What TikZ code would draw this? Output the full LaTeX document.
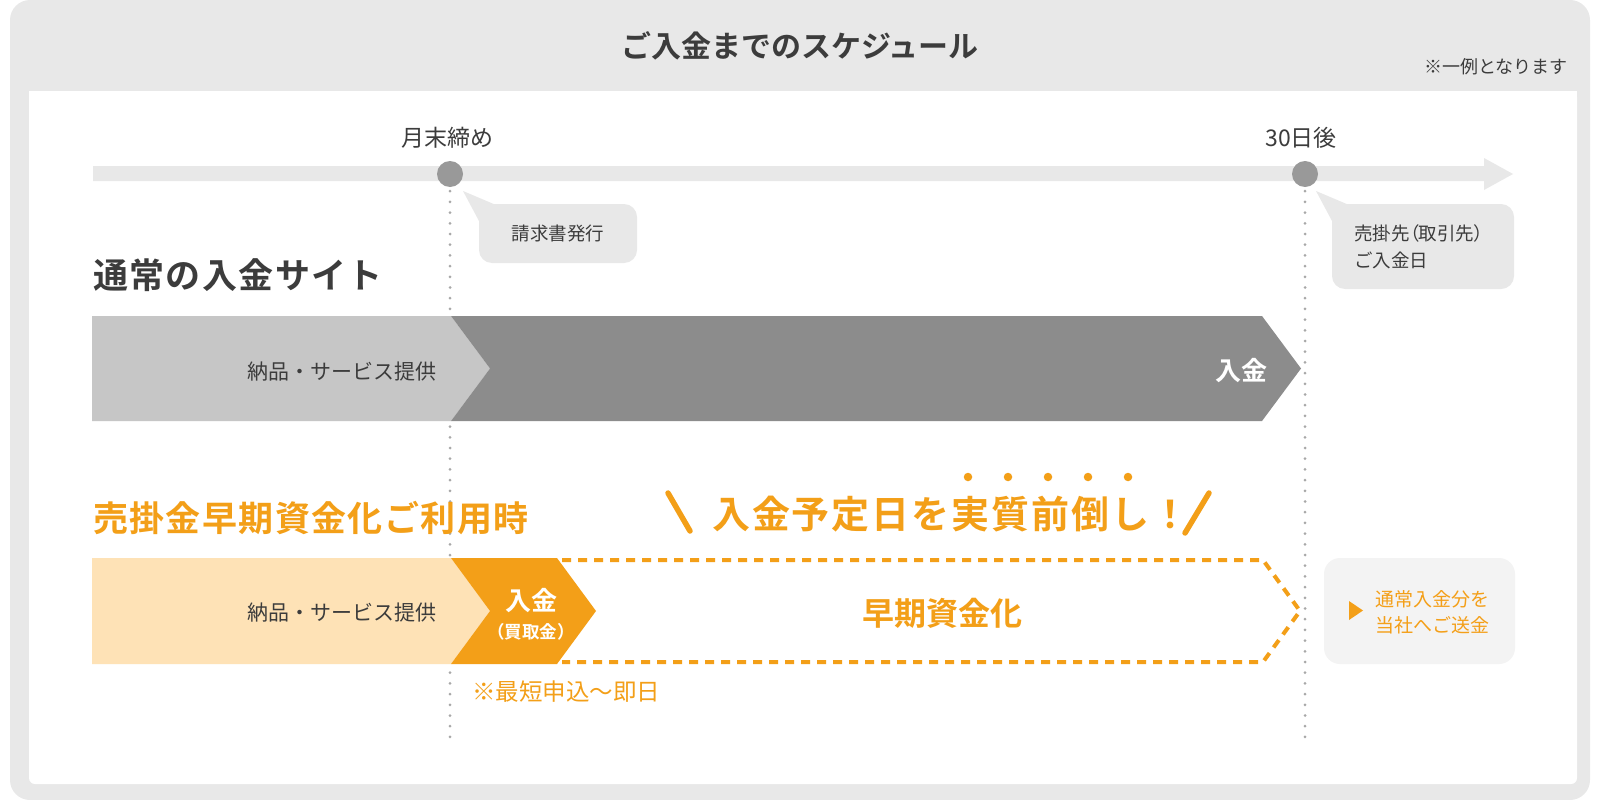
\documentclass[tikz,border=0pt]{standalone}
\usepackage{fontspec}
\setmainfont{Noto Sans CJK JP}[BoldFont={Noto Sans CJK JP Bold}]
\definecolor{frame}{HTML}{E8E8E8}
\definecolor{dark}{HTML}{3C3C3C}
\definecolor{dotgray}{HTML}{A8A8A8}
\definecolor{circ}{HTML}{999999}
\definecolor{rowlight}{HTML}{C6C6C6}
\definecolor{rowdark}{HTML}{8C8C8C}
\definecolor{orng}{HTML}{F39F18}
\definecolor{orlight}{HTML}{FEE2B6}
\definecolor{boxgray}{HTML}{F3F3F3}
\tikzset{
  txt/.style={inner sep=0pt, text=dark},
  titletxt/.style={txt, font=\fontsize{30pt}{36pt}\selectfont\bfseries},
  notetxt/.style={txt, font=\fontsize{18pt}{22pt}\selectfont},
  ticktxt/.style={txt, font=\fontsize{23pt}{28pt}\selectfont},
  calltxt/.style={txt, font=\fontsize{18.5pt}{27pt}\selectfont, align=left},
  headtxt/.style={txt, font=\fontsize{35pt}{40pt}\selectfont\bfseries\addfontfeatures{LetterSpace=4}},
  rowtxt/.style={txt, font=\fontsize{21pt}{25pt}\selectfont},
  paytxt/.style={inner sep=0pt, text=white, font=\fontsize{26pt}{30pt}\selectfont\bfseries},
  paysmall/.style={inner sep=0pt, text=white, font=\fontsize{17.5pt}{21pt}\selectfont\bfseries},
  orbig/.style={inner sep=0pt, text=orng, font=\fontsize{38pt}{44pt}\selectfont\bfseries\addfontfeatures{LetterSpace=5}},
  ormid/.style={inner sep=0pt, text=orng, font=\fontsize{32pt}{38pt}\selectfont\bfseries},
  ornote/.style={inner sep=0pt, text=orng, font=\fontsize{23.5pt}{28pt}\selectfont},
  orbox/.style={inner sep=0pt, text=orng, font=\fontsize{19pt}{26pt}\selectfont, align=left},
  tdot/.style={circle, fill=circ, inner sep=0pt, minimum size=26pt},
  dotline/.style={draw=dotgray, line width=3pt, line cap=round, dash pattern=on 0pt off 10.7pt},
  callbox/.style={fill=frame, rounded corners=13pt, inner sep=0pt},
  dashline/.style={draw=orng, line width=4pt, dash pattern=on 9pt off 7pt},
  slash/.style={draw=orng, line width=5.5pt, line cap=round},
  emdot/.style={circle, fill=orng, inner sep=0pt, minimum size=8.5pt},
}
\begin{document}
\begin{tikzpicture}[x=1pt,y=-1pt]
\useasboundingbox (0,0) rectangle (1600,800);
% frame
\fill[frame, rounded corners=20pt] (10,0) rectangle (1590,800);
\fill[white, rounded corners=6pt] (29,91) rectangle (1577,784);
\fill[white] (29,91) rectangle (1577,200);
\node[titletxt] (title) at (800,46) {ご入金までのスケジュール};
\node[notetxt, anchor=east] (note) at (1568,67) {※一例となります};
% timeline
\fill[frame] (93,166) -- (1484,166) -- (1484,158) -- (1513,174) -- (1484,190) -- (1484,181) -- (93,181) -- cycle;
\node[tdot] (c1) at (450,174) {};
\node[tdot] (c2) at (1305,174) {};
\coordinate (d1) at (450,742);
\coordinate (d2) at (1305,742);
\draw[dotline] ([yshift=-4pt]c1.south) -- (d1);
\draw[dotline] ([yshift=-4pt]c2.south) -- (d2);
\node[ticktxt] (lab1) at (447,138) {月末締め};
\node[ticktxt] (lab2) at (1301,138) {30日後};
% callout 1
\fill[frame] (463,191) -- (496,205) -- (479,221) -- cycle;
\node[callbox, minimum width=158pt, minimum height=59pt] (cb1) at (558,233.5) {};
\node[calltxt] (ct1) at (cb1.center) {請求書発行};
% callout 2
\fill[frame] (1316,191) -- (1349,205) -- (1332,221) -- cycle;
\node[callbox, minimum width=182pt, minimum height=85pt] (cb2) at (1423,246.5) {};
\node[calltxt, anchor=west] (ct2) at (1354,246.5) {{\addfontfeatures{RawFeature=+palt}売掛先（取引先）}\\ご入金日};
% row 1
\node[headtxt, anchor=west] (h1) at (93,275) {通常の入金サイト};
\fill[rowlight] (92,316) -- (451,316) -- (490,368.5) -- (451,421) -- (92,421) -- cycle;
\fill[rowdark] (451,316) -- (1262,316) -- (1301,368.5) -- (1262,421) -- (451,421) -- (490,368.5) -- cycle;
\node[rowtxt, anchor=east] (r1a) at (437,372) {納品・サービス提供};
\node[paytxt] (r1b) at (1241,371) {入金};
% row 2
\node[headtxt, text=orng, anchor=west] (h2) at (93,518) {売掛金早期資金化ご利用時};
\draw[slash] (668,493) -- (690,531);
\node[orbig, anchor=west] (tag) at (712,514) {入金予定日を実質前倒し！};
\draw[slash] (1209,493) -- (1185,533);
\foreach \i in {0,...,4} {
  \node[emdot] (em\i) at (968+40*\i,477) {};
}
\fill[orlight] (92,558) -- (451,558) -- (490,611) -- (451,664) -- (92,664) -- cycle;
\fill[orng] (451,558) -- (557,558) -- (596,611) -- (557,664) -- (451,664) -- (490,611) -- cycle;
\draw[dashline] (562,560) -- (1263,560) -- (1300,611) -- (1263,662) -- (562,662);
\node[rowtxt, anchor=east] (r2a) at (437,613) {納品・サービス提供};
\node[paytxt] (r2b) at (531,601) {入金};
\node[paysmall] (r2c) at (531,632) {（買取金）};
\node[ormid] (r2d) at (942,613) {早期資金化};
\node[ornote, anchor=west] (r2e) at (472,692) {※最短申込～即日};
% right box
\node[fill=boxgray, rounded corners=16pt, minimum width=191pt, minimum height=106pt, inner sep=0pt] (rb) at (1419.5,611) {};
\fill[orng] (1349,601) -- (1363,610.5) -- (1349,620) -- cycle;
\node[orbox, anchor=west] (rbt) at (1375,612) {通常入金分を\\当社へご送金};
\end{tikzpicture}
\end{document}
